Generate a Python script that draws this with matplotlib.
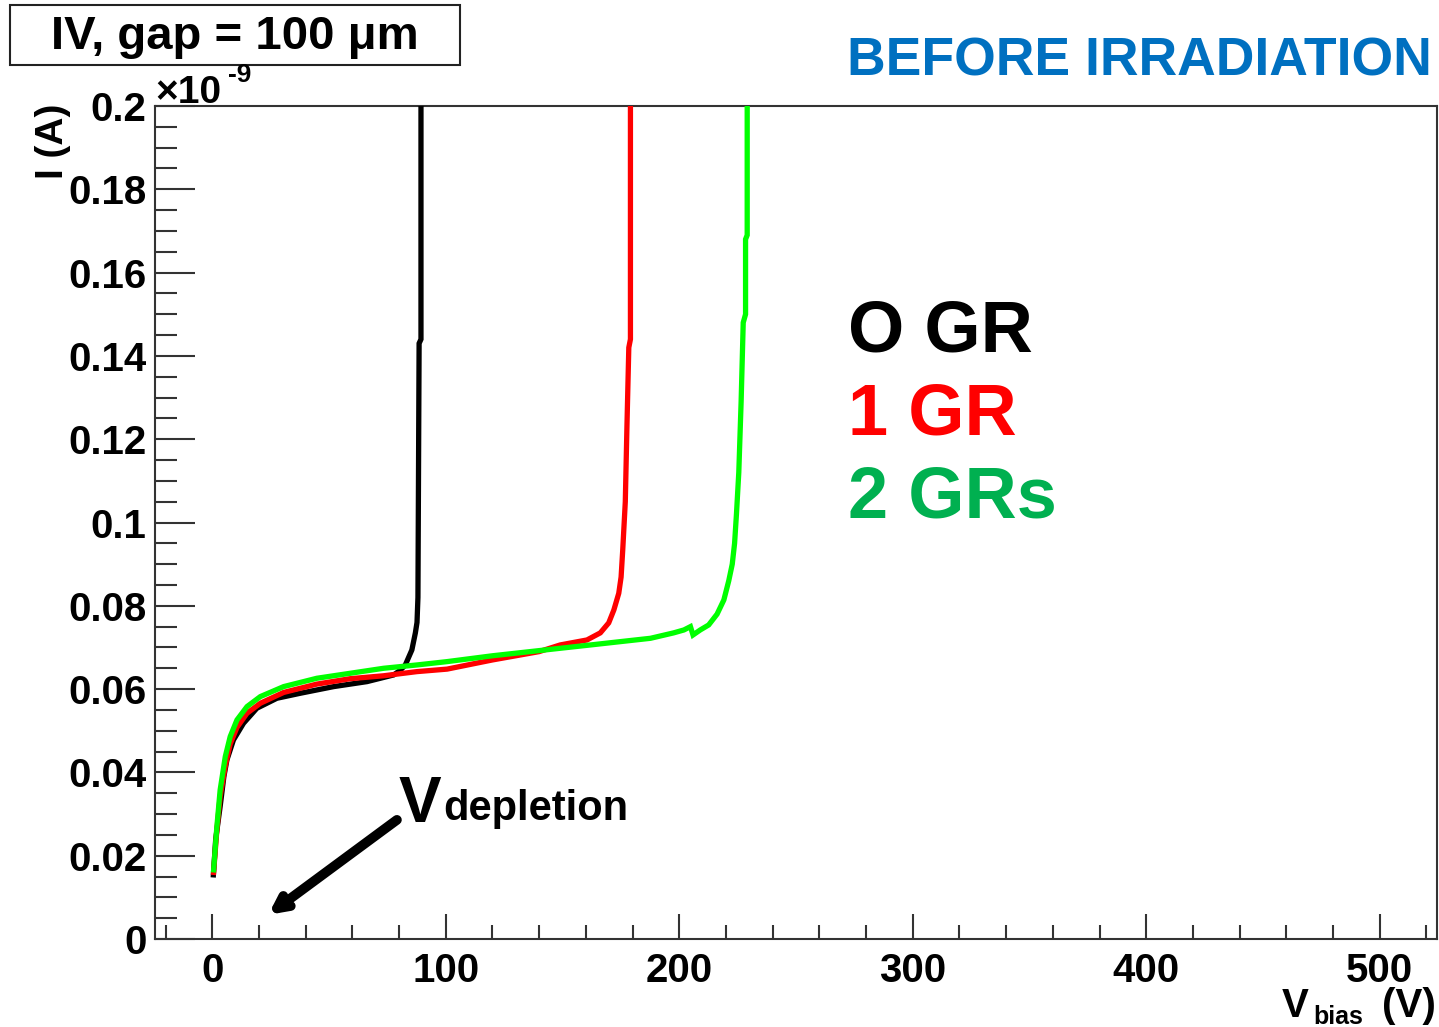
import matplotlib
matplotlib.use("Agg")
import matplotlib.pyplot as plt
from matplotlib.ticker import MultipleLocator, FuncFormatter

plt.rcParams['font.family'] = ['Liberation Sans', 'DejaVu Sans']

# ---- data (current in units of 1e-9 A, voltage in V) ----
v_0gr = [0.5, 1.5, 3.4, 5.0, 6.3, 9.1, 13.4, 19.1, 27.7, 37.7, 52.0, 66.3, 77.7,
         80.5, 82.7, 85.5, 87.0, 87.7, 88.1, 88.6, 89.4, 89.4]
i_0gr = [0.0154, 0.024, 0.0318, 0.039, 0.043, 0.0478, 0.0518, 0.0554, 0.0578,
         0.059, 0.0606, 0.0618, 0.0634, 0.0645, 0.0658, 0.0694, 0.0735, 0.076,
         0.082, 0.143, 0.144, 0.20]

v_1gr = [0.6, 2.0, 3.4, 5.6, 7.7, 10.6, 14.9, 20.6, 30.6, 44.8, 59.1, 73.4, 87.7,
         100.6, 120.0, 140.0, 149.0, 160.5, 166.2, 169.8, 172.0, 174.1, 175.1,
         175.8, 176.9, 177.6, 178.4, 179.1, 179.1]
i_1gr = [0.016, 0.0262, 0.0342, 0.0415, 0.0468, 0.0508, 0.0542, 0.0566, 0.0592,
         0.0612, 0.0625, 0.0632, 0.0642, 0.0648, 0.067, 0.069, 0.0706, 0.0718,
         0.0735, 0.0759, 0.079, 0.083, 0.0869, 0.0934, 0.105, 0.123, 0.142,
         0.144, 0.20]

v_2gr = [0.6, 2.0, 3.4, 5.6, 7.7, 10.6, 14.9, 20.6, 30.6, 44.8, 59.1, 73.4, 87.7,
         100.6, 120.0, 149.0, 162.0, 174.8, 187.7, 197.6, 202.0, 204.8, 205.9,
         209.0, 212.6, 216.2, 219.1, 221.2, 222.7, 223.7, 224.5, 225.5, 226.5,
         227.4, 228.4, 228.4, 229.1, 229.1]
i_2gr = [0.0166, 0.027, 0.0358, 0.0438, 0.0486, 0.0526, 0.0558, 0.0582, 0.0606,
         0.0626, 0.0638, 0.065, 0.0658, 0.0666, 0.068, 0.0698, 0.0706, 0.0714,
         0.0722, 0.0735, 0.0742, 0.075, 0.073, 0.0742, 0.0754, 0.078, 0.0814,
         0.086, 0.090, 0.095, 0.102, 0.112, 0.129, 0.148, 0.150, 0.168, 0.169,
         0.20]

legend_labels = ["O GR", "1 GR", "2 GRs"]

W, H = 1439, 1027
fig = plt.figure(figsize=(W / 100, H / 100), dpi=100)
ax = fig.add_axes([155 / W, 1 - 939 / H, (1437 - 155) / W, (939 - 106) / H])


def P(x, y):
    return (x / W, 1 - y / H)


ax.plot(v_0gr, i_0gr, color='black', lw=3.8, solid_joinstyle='miter', zorder=3)
ax.plot(v_1gr, i_1gr, color='#FF0000', lw=3.8, solid_joinstyle='miter', zorder=4)
ax.plot(v_2gr, i_2gr, color='#00FF00', lw=3.8, solid_joinstyle='miter', zorder=5)

ax.set_xlim(-24.5, 524.5)
ax.set_ylim(0, 0.2)

ax.xaxis.set_major_locator(MultipleLocator(100))
ax.xaxis.set_minor_locator(MultipleLocator(20))
ax.yaxis.set_major_locator(MultipleLocator(0.02))
ax.yaxis.set_minor_locator(MultipleLocator(0.005))
ax.yaxis.set_major_formatter(FuncFormatter(lambda v, p: ('%.2f' % v).rstrip('0').rstrip('.') if v != 0 else '0'))

for s in ax.spines.values():
    s.set_linewidth(1.5)
    s.set_color('#333333')

ax.tick_params(axis='both', which='both', direction='in', color='#333333', width=1.5,
               top=False, right=False)
ax.tick_params(axis='x', which='major', length=18, pad=9, labelsize=29)
ax.tick_params(axis='x', which='minor', length=10)
ax.tick_params(axis='y', which='major', length=28.5, pad=6, labelsize=29)
ax.tick_params(axis='y', which='minor', length=15.5)
for lab in ax.get_xticklabels() + ax.get_yticklabels():
    lab.set_fontweight('bold')

# multiplier
fig.text(*P(155, 103), "×10", fontsize=28, fontweight='bold', ha='left', va='baseline')
fig.text(*P(228, 82), "-9", fontsize=19, fontweight='bold', ha='left', va='baseline')

# axis labels
fig.text(*P(53, 104), "I (A)", fontsize=28, fontweight='bold', rotation=90,
         ha='center', va='top')
fig.text(*P(1282, 1017), "V", fontsize=29, fontweight='bold', ha='left', va='baseline')
fig.text(*P(1313, 1024), "bias", fontsize=18, fontweight='bold', ha='left', va='baseline')
fig.text(*P(1436, 1017), "(V)", fontsize=29, fontweight='bold', ha='right', va='baseline')

# title box
fig.text(*P(235, 49), "IV, gap = 100 μm", fontsize=34, fontweight='bold',
         ha='center', va='baseline')
fig.patches.append(plt.Rectangle(P(10, 65), 450 / W, 60 / H, transform=fig.transFigure,
                                 fill=False, edgecolor='#222222', lw=1.5))

fig.text(*P(1432, 76), "BEFORE IRRADIATION", fontsize=38.5, fontweight='bold',
         color='#0070C0', ha='right', va='baseline')

# legend texts
leg_colors = ['black', '#FF0000', '#00B050']
leg_y = [352, 435, 518]
for lab, c, y in zip(legend_labels, leg_colors, leg_y):
    fig.text(*P(848, y), lab, fontsize=52, fontweight='bold', color=c,
             ha='left', va='baseline')

# V_depletion annotation
ax.annotate("", xy=(24.0, 0.0058), xytext=(79.1, 0.0286),
            arrowprops=dict(arrowstyle='->,head_length=0.9,head_width=0.45',
                            lw=7, color='black', shrinkA=0, shrinkB=0,
                            capstyle='round', joinstyle='round'))
fig.text(*P(399, 822), "V", fontsize=46, fontweight='bold', ha='left', va='baseline')
fig.text(*P(443, 820), "depletion", fontsize=30, fontweight='bold', ha='left', va='baseline')

fig.savefig("out.png", dpi=100)
